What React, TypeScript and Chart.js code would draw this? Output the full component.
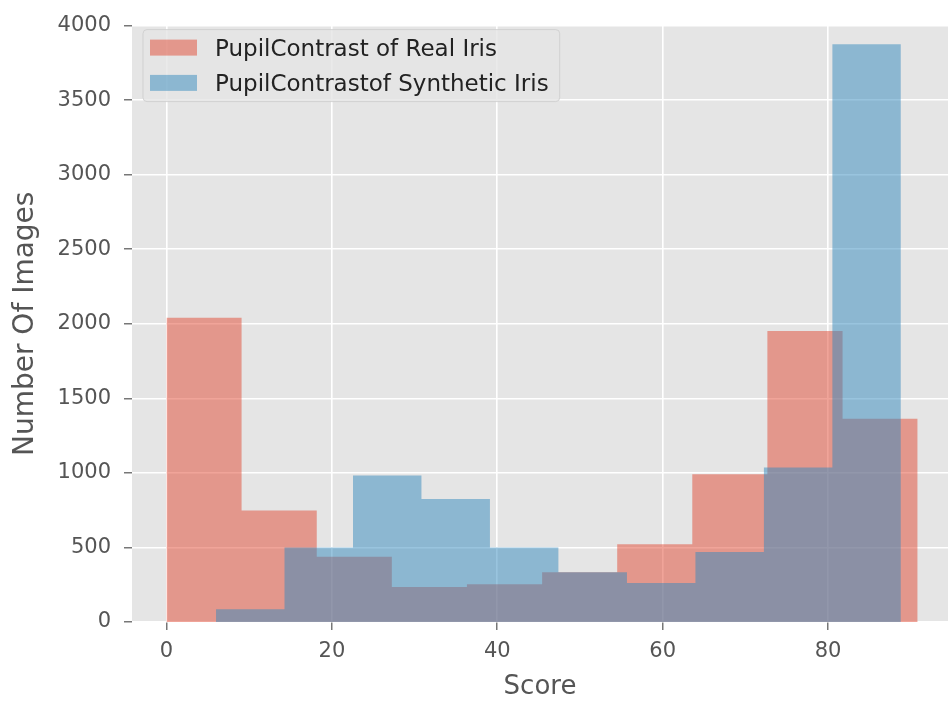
import React, { useEffect, useRef } from 'react';
import { Chart, registerables } from 'chart.js';

Chart.register(...registerables);

// ---- Data ----
const seriesLabels = ['PupilContrast of Real Iris', 'PupilContrastof Synthetic Iris'];

const realBinEdges = [0, 9.08, 18.17, 27.25, 36.33, 45.42, 54.5, 63.58, 72.66, 81.75, 90.83];
const realCounts = [2040, 747, 437, 235, 253, 334, 521, 991, 1951, 1364];

const synthBinEdges = [5.99, 14.27, 22.55, 30.83, 39.11, 47.39, 55.68, 63.96, 72.24, 80.52, 88.8];
const synthCounts = [86, 499, 983, 825, 499, 334, 261, 470, 1036, 3875];

const xTickValues = [0, 20, 40, 60, 80];
const yTickValues = [0, 500, 1000, 1500, 2000, 2500, 3000, 3500, 4000];

const xTitle = 'Score';
const yTitle = 'Number Of Images';

// ---- Styles ----
const RED = 'rgba(226, 74, 51, 0.5)';
const BLUE = 'rgba(52, 138, 189, 0.5)';
const AXIS_BG = '#E5E5E5';
const LABEL_GRAY = '#555555';
const FONT = '"DejaVu Sans", "Liberation Sans", sans-serif';

function histSteps(edges: number[], counts: number[]) {
  return edges.map((e, i) => ({ x: e, y: counts[Math.min(i, counts.length - 1)] }));
}

const bgPlugin = {
  id: 'axesBackground',
  beforeDraw(chart: any) {
    const { ctx, chartArea } = chart;
    ctx.save();
    ctx.fillStyle = AXIS_BG;
    ctx.fillRect(chartArea.left, chartArea.top, chartArea.right - chartArea.left, chartArea.bottom - chartArea.top);
    ctx.restore();
  },
};

const insideLegend = {
  id: 'insideLegend',
  afterDatasetsDraw(chart: any) {
    const { ctx, chartArea } = chart;
    const items = chart.data.datasets.map((d: any) => ({ label: d.label, color: d.backgroundColor }));
    ctx.save();
    ctx.font = `23px ${FONT}`;
    const maxW = Math.max(...items.map((it: any) => ctx.measureText(it.label).width));
    const bx = chartArea.left + 11;
    const by = chartArea.top + 4;
    const textOffset = 72;
    const bw = textOffset + maxW + 11;
    const bh = 72;
    const r = 4;
    ctx.beginPath();
    ctx.moveTo(bx + r, by);
    ctx.lineTo(bx + bw - r, by);
    ctx.quadraticCurveTo(bx + bw, by, bx + bw, by + r);
    ctx.lineTo(bx + bw, by + bh - r);
    ctx.quadraticCurveTo(bx + bw, by + bh, bx + bw - r, by + bh);
    ctx.lineTo(bx + r, by + bh);
    ctx.quadraticCurveTo(bx, by + bh, bx, by + bh - r);
    ctx.lineTo(bx, by + r);
    ctx.quadraticCurveTo(bx, by, bx + r, by);
    ctx.closePath();
    ctx.fillStyle = 'rgba(229,229,229,0.8)';
    ctx.fill();
    ctx.strokeStyle = 'rgba(204,204,204,0.8)';
    ctx.lineWidth = 1;
    ctx.stroke();

    items.forEach((it: any, i: number) => {
      const rowTop = by + 10 + i * 35.3;
      ctx.fillStyle = it.color;
      ctx.fillRect(bx + 7, rowTop, 47, 16);
      ctx.fillStyle = '#222222';
      ctx.textBaseline = 'alphabetic';
      ctx.textAlign = 'left';
      ctx.fillText(it.label, bx + textOffset, rowTop + 16);
    });
    ctx.restore();
  },
};

export default function App() {
  const canvasRef = useRef<HTMLCanvasElement | null>(null);

  useEffect(() => {
    if (!canvasRef.current) return;
    Chart.defaults.font.family = FONT;
    const chart = new Chart(canvasRef.current, {
      type: 'line',
      data: {
        datasets: [
          {
            label: seriesLabels[0],
            data: histSteps(realBinEdges, realCounts),
            stepped: true,
            fill: 'origin',
            backgroundColor: RED,
            borderColor: 'rgba(0,0,0,0)',
            borderWidth: 0,
            pointRadius: 0,
            order: 2,
          },
          {
            label: seriesLabels[1],
            data: histSteps(synthBinEdges, synthCounts),
            stepped: true,
            fill: 'origin',
            backgroundColor: BLUE,
            borderColor: 'rgba(0,0,0,0)',
            borderWidth: 0,
            pointRadius: 0,
            order: 1,
          },
        ],
      },
      options: {
        responsive: false,
        animation: false,
        devicePixelRatio: 1,
        events: [],
        layout: { padding: { top: 16, right: 0, left: 0, bottom: 0 } },
        plugins: {
          legend: { display: false },
          tooltip: { enabled: false },
        },
        scales: {
          x: {
            type: 'linear',
            min: -4.17,
            max: 94.5,
            afterBuildTicks: (scale: any) => {
              scale.ticks = xTickValues.map((v) => ({ value: v }));
            },
            afterFit: (scale: any) => {
              scale.height = 83;
            },
            border: { display: false },
            grid: {
              color: '#FFFFFF',
              lineWidth: 1.6,
              drawTicks: true,
              tickLength: 8,
              tickColor: LABEL_GRAY,
              tickWidth: 1.2,
            },
            ticks: {
              color: LABEL_GRAY,
              font: { size: 21 },
              padding: 9,
              maxRotation: 0,
              callback: (v: any) => String(v),
            },
            title: {
              display: true,
              text: xTitle,
              color: LABEL_GRAY,
              font: { size: 26 },
              padding: { top: 0, bottom: 2 },
            },
          },
          y: {
            type: 'linear',
            min: 0,
            max: 4000,
            afterBuildTicks: (scale: any) => {
              scale.ticks = yTickValues.map((v) => ({ value: v }));
            },
            afterFit: (scale: any) => {
              scale.width = 132;
            },
            border: { display: false },
            grid: {
              color: '#FFFFFF',
              lineWidth: 1.6,
              drawTicks: true,
              tickLength: 8,
              tickColor: LABEL_GRAY,
              tickWidth: 1.2,
            },
            ticks: {
              color: LABEL_GRAY,
              font: { size: 21 },
              padding: 13,
              callback: (v: any) => String(v),
            },
            title: {
              display: true,
              text: yTitle,
              color: LABEL_GRAY,
              font: { size: 28 },
              padding: { top: 9, bottom: 0 },
            },
          },
        },
      },
      plugins: [bgPlugin, insideLegend],
    } as any);
    return () => chart.destroy();
  }, []);

  return (
    <div style={{ position: 'fixed', left: 0, top: 0, width: 948, height: 705, background: '#FFFFFF' }}>
      <canvas ref={canvasRef} width={948} height={705} style={{ display: 'block' }} />
    </div>
  );
}
